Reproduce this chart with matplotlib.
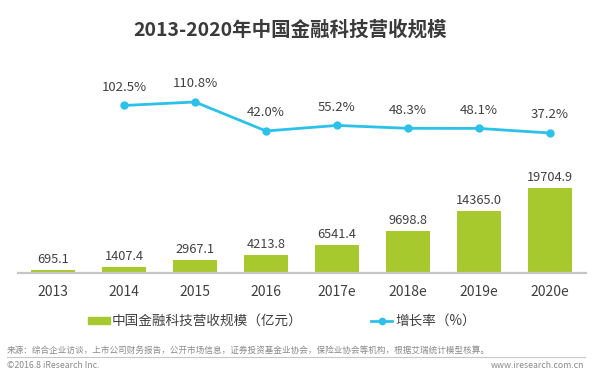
"""
2013-2020 China fintech revenue: bars (revenue, 100m CNY) + growth rate line.
"""

import matplotlib
matplotlib.use("Agg")
import matplotlib.pyplot as plt
from matplotlib.patches import Rectangle
from matplotlib.lines import Line2D

# --- data ---
years = ["2013", "2014", "2015", "2016", "2017e", "2018e", "2019e", "2020e"]
revenue = [695.1, 1407.4, 2967.1, 4213.8, 6541.4, 9698.8, 14365.0, 19704.9]
growth_years = ["2014", "2015", "2016", "2017e", "2018e", "2019e", "2020e"]
growth = [102.5, 110.8, 42.0, 55.2, 48.3, 48.1, 37.2]

# --- style ---
GREEN = "#a8c92e"
CYAN = "#2cc1e9"
TEXT = "#404040"
AXIS = "#c6c6c6"
NOTE = "#8a8a8a"

plt.rcParams["font.family"] = ["Noto Sans CJK SC", "DejaVu Sans"]

W, H = 596, 377
fig = plt.figure(figsize=(W / 100, H / 100), dpi=100)
fig.patch.set_facecolor("white")


def fx(px):
    return px / W


def fy(py):
    # py measured from the top of the image
    return 1 - py / H


ax = fig.add_axes([fx(17.5), fy(273), fx(585.5 - 17.5), (273 - 60) / H])
x = list(range(len(years)))
bars = ax.bar(x, revenue, width=0.62, color=GREEN, zorder=2)
ax.set_xlim(-0.5, len(years) - 0.5)
ax.set_ylim(0, 49190)
ax.set_xticks(x)
ax.set_xticklabels(years, fontsize=10, color=TEXT)
ax.tick_params(axis="x", length=0, pad=8.5)
ax.set_yticks([])
for s in ("top", "right", "left"):
    ax.spines[s].set_visible(False)
ax.spines["bottom"].set_color(AXIS)
ax.spines["bottom"].set_linewidth(1.6)

for xi, v in zip(x, revenue):
    ax.annotate(f"{v:.1f}", (xi, v), xytext=(0, 3), textcoords="offset points",
                ha="center", va="bottom", fontsize=9.2, color=TEXT)

ax2 = ax.twinx()
ax2.set_ylim(-294.9, 210.4)
gx = [years.index(y) for y in growth_years]
ax2.plot(gx, growth, color=CYAN, linewidth=2, marker="o", markersize=5, zorder=3)
ax2.axis("off")
for xi, v in zip(gx, growth):
    ax2.annotate(f"{v:.1f}%", (xi, v), xytext=(0, 13), textcoords="offset points",
                 ha="center", va="center", fontsize=9.5, color=TEXT)

# title
fig.text(fx(290), fy(30), "2013-2020年中国金融科技营收规模", ha="center", va="center",
         fontsize=14, fontweight="bold", color="#3a3a3a")

# legend, drawn by hand
fig.patches.append(Rectangle((fx(88), fy(324)), fx(22), 7 / H,
                             transform=fig.transFigure, color=GREEN))
fig.text(fx(112), fy(321), "中国金融科技营收规模（亿元）", ha="left", va="center",
         fontsize=9.8, color=TEXT)
fig.lines.append(Line2D([fx(371), fx(392)], [fy(321), fy(321)], transform=fig.transFigure,
                        color=CYAN, linewidth=2))
fig.lines.append(Line2D([fx(381.5)], [fy(321)], transform=fig.transFigure,
                        color=CYAN, marker="o", markersize=4.5))
fig.text(fx(395), fy(321), "增长率（%）", ha="left", va="center",
         fontsize=9.8, color=TEXT)

# footer
fig.text(fx(7), fy(350), "来源：综合企业访谈，上市公司财务报告，公开市场信息，证券投资基金业协会，"
         "保险业协会等机构，根据艾瑞统计模型核算。", ha="left", va="center",
         fontsize=6.2, color=NOTE)
fig.lines.append(Line2D([fx(7), fx(585)], [fy(357), fy(357)], transform=fig.transFigure,
                        color="#c8c8c8", linewidth=0.8))
fig.text(fx(7), fy(365.5), "©2016.8 iResearch Inc.", ha="left", va="center",
         fontsize=6.3, color=NOTE)
fig.text(fx(584), fy(365.5), "www.iresearch.com.cn", ha="right", va="center",
         fontsize=6.3, color=NOTE)

fig.savefig("out.png", dpi=100)
